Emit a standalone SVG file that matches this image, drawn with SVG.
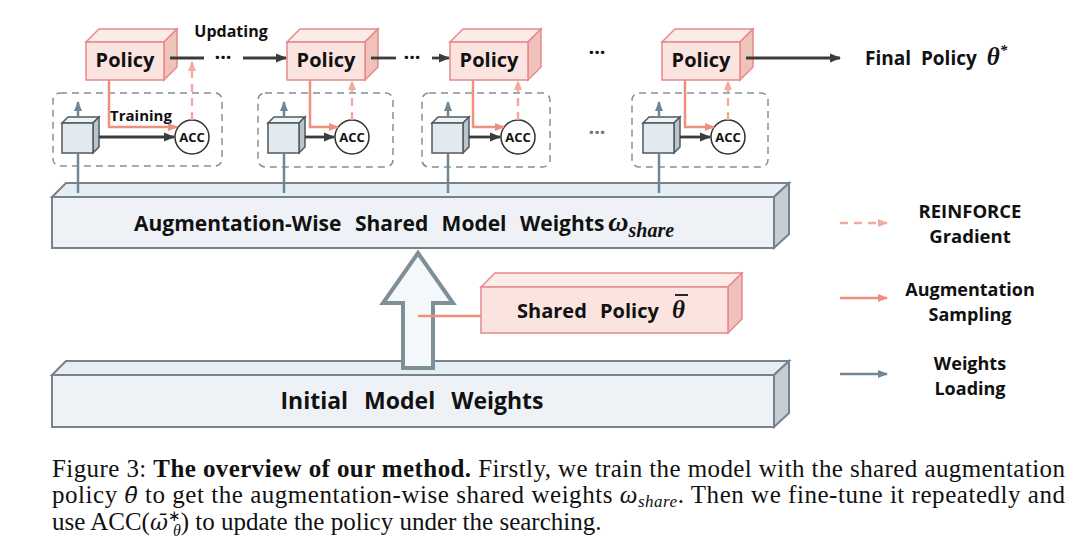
<svg xmlns="http://www.w3.org/2000/svg" width="1080" height="553" viewBox="0 0 1080 553">
<style>
.lbl{font-family:"Open Sans","Noto Sans",sans-serif;font-weight:bold;fill:#111;}
.pol-front{fill:#fbe4df;stroke:#e8898a;stroke-width:1.5;}
.pol-top{fill:#fcece8;stroke:#e8898a;stroke-width:1.5;}
.pol-side{fill:#efc3bb;stroke:#e8898a;stroke-width:1.5;}
.bar-front{fill:#eef2f7;stroke:#76838e;stroke-width:2;}
.bar-top{fill:#e6edf3;stroke:#76838e;stroke-width:2;}
.bar-side{fill:#c6cdd4;stroke:#76838e;stroke-width:2;}
.cube-front{fill:#e2eaef;stroke:#4f5a60;stroke-width:1.5;}
.cube-top{fill:#eef3f6;stroke:#4f5a60;stroke-width:1.5;}
.cube-side{fill:#b9c4cb;stroke:#4f5a60;stroke-width:1.5;}
.dbox{fill:none;stroke:#8a8f94;stroke-width:1.5;stroke-dasharray:7 5;}
.acc{fill:#fff;stroke:#333;stroke-width:1.5;}
.dark{stroke:#3c3c3c;stroke-width:2.8;fill:none;}
.samp{stroke:#ef8f80;stroke-width:2.5;fill:none;}
.grad{stroke:#f2aaa0;stroke-width:2.5;fill:none;stroke-dasharray:8 6;}
.load{stroke:#6f8793;stroke-width:2.5;fill:none;}
.cap{font-family:"Liberation Serif","Times New Roman",serif;font-size:25px;fill:#111;}
.math{font-family:"Liberation Serif","Times New Roman",serif;font-style:italic;}
.mathb{font-family:"DejaVu Serif",serif;font-style:italic;}
</style>
<defs>
<marker id="mDark" viewBox="0 0 10 10" refX="9" refY="5" markerWidth="4" markerHeight="4" orient="auto"><path d="M0,1 L10,5 L0,9 z" fill="#3c3c3c"/></marker>
<marker id="mSamp" viewBox="0 0 10 10" refX="9" refY="5" markerWidth="4" markerHeight="4" orient="auto"><path d="M0,1 L10,5 L0,9 z" fill="#ef8f80"/></marker>
<marker id="mGrad" viewBox="0 0 10 10" refX="9" refY="5" markerWidth="4" markerHeight="4" orient="auto"><path d="M0,1 L10,5 L0,9 z" fill="#f2aaa0"/></marker>
<marker id="mLoad" viewBox="0 0 10 10" refX="9" refY="5" markerWidth="4" markerHeight="4" orient="auto"><path d="M0,1 L10,5 L0,9 z" fill="#6f8793"/></marker>
</defs>
<rect width="1080" height="553" fill="#fff"/>

<!-- bars -->
<g id="shared-weights">
<polygon class="bar-top" points="52,197 66,183 789,183 774,197"/>
<polygon class="bar-side" points="774,197 789,183 789,234 774,248"/>
<rect class="bar-front" x="52" y="197" width="722" height="51"/>
<text class="lbl" x="134" y="231" font-size="21" word-spacing="8">Augmentation-Wise Shared Model Weights<tspan class="math" font-weight="bold" font-size="28" dx="4">ω</tspan><tspan class="math" font-weight="bold" font-size="20" dy="6">share</tspan></text>
</g>
<g id="initial-weights">
<polygon class="bar-top" points="52,375 66,361 789,361 774,375"/>
<polygon class="bar-side" points="774,375 789,361 789,413 774,427"/>
<rect class="bar-front" x="52" y="375" width="722" height="52"/>
<text class="lbl" x="412" y="409" font-size="23" text-anchor="middle" word-spacing="10">Initial Model Weights</text>
</g>
<g id="hollow-arrow">
<polygon points="418,253 453,303 433,303 433,368 403,368 403,303 383,303" fill="#f5f8fb" stroke="#7f8f98" stroke-width="4" stroke-linejoin="miter"/>
</g>
<g id="shared-policy">
<polygon class="pol-top" points="481,287 495,273 742,273 728,287"/>
<polygon class="pol-side" points="728,287 742,273 742,319 728,333"/>
<rect class="pol-front" x="481" y="287" width="247" height="46"/>
<text class="lbl" x="517" y="318" font-size="20" word-spacing="8">Shared Policy <tspan class="math" font-weight="bold" font-size="25">θ</tspan></text>
<line x1="675" y1="295" x2="688" y2="295" stroke="#111" stroke-width="1.8"/>
</g>

<!-- dashed training boxes -->
<g id="train-box-1"><rect class="dbox" x="53" y="93" width="169" height="73" rx="7"/></g>
<g id="train-box-2"><rect class="dbox" x="258" y="93" width="135" height="74" rx="7"/></g>
<g id="train-box-3"><rect class="dbox" x="422" y="93" width="128" height="74" rx="7"/></g>
<g id="train-box-4"><rect class="dbox" x="632" y="93" width="136" height="74" rx="7"/></g>

<!-- policies -->
<g id="policy-1">
<polygon class="pol-top" points="86,42 99,29 177,29 164,42"/>
<polygon class="pol-side" points="164,42 177,29 177,67 164,80"/>
<rect class="pol-front" x="86" y="42" width="78" height="38"/>
<text class="lbl" x="125" y="67" font-size="20" text-anchor="middle">Policy</text>
</g>
<g id="policy-2">
<polygon class="pol-top" points="287,42 300,29 378,29 365,42"/>
<polygon class="pol-side" points="365,42 378,29 378,67 365,80"/>
<rect class="pol-front" x="287" y="42" width="78" height="38"/>
<text class="lbl" x="326" y="67" font-size="20" text-anchor="middle">Policy</text>
</g>
<g id="policy-3">
<polygon class="pol-top" points="450,42 463,29 541,29 528,42"/>
<polygon class="pol-side" points="528,42 541,29 541,67 528,80"/>
<rect class="pol-front" x="450" y="42" width="78" height="38"/>
<text class="lbl" x="489" y="67" font-size="20" text-anchor="middle">Policy</text>
</g>
<g id="policy-4">
<polygon class="pol-top" points="662,42 675,29 753,29 740,42"/>
<polygon class="pol-side" points="740,42 753,29 753,67 740,80"/>
<rect class="pol-front" x="662" y="42" width="78" height="38"/>
<text class="lbl" x="701" y="67" font-size="20" text-anchor="middle">Policy</text>
</g>

<!-- cubes (models) -->
<g id="model-1">
<polygon class="cube-top" points="62,123 68,117 99,117 93,123"/>
<polygon class="cube-side" points="93,123 99,117 99,147 93,153"/>
<rect class="cube-front" x="62" y="123" width="31" height="30"/>
</g>
<g id="model-2">
<polygon class="cube-top" points="268,123 274,117 305,117 299,123"/>
<polygon class="cube-side" points="299,123 305,117 305,147 299,153"/>
<rect class="cube-front" x="268" y="123" width="31" height="30"/>
</g>
<g id="model-3">
<polygon class="cube-top" points="432,123 438,117 469,117 463,123"/>
<polygon class="cube-side" points="463,123 469,117 469,147 463,153"/>
<rect class="cube-front" x="432" y="123" width="31" height="30"/>
</g>
<g id="model-4">
<polygon class="cube-top" points="643,123 649,117 680,117 674,123"/>
<polygon class="cube-side" points="674,123 680,117 680,147 674,153"/>
<rect class="cube-front" x="643" y="123" width="31" height="30"/>
</g>

<!-- ACC nodes -->
<g id="acc-1"><circle class="acc" cx="192" cy="137" r="17"/><text class="lbl" x="192" y="142" font-size="13" text-anchor="middle">ACC</text></g>
<g id="acc-2"><circle class="acc" cx="352" cy="137" r="17"/><text class="lbl" x="352" y="142" font-size="13" text-anchor="middle">ACC</text></g>
<g id="acc-3"><circle class="acc" cx="518" cy="137" r="17"/><text class="lbl" x="518" y="142" font-size="13" text-anchor="middle">ACC</text></g>
<g id="acc-4"><circle class="acc" cx="728" cy="137" r="17"/><text class="lbl" x="728" y="142" font-size="13" text-anchor="middle">ACC</text></g>

<!-- connectors -->
<g id="connectors">
<line class="load" x1="78" y1="193" x2="78" y2="153"/><line class="load" x1="78" y1="117" x2="78" y2="102" marker-end="url(#mLoad)"/>
<line class="load" x1="284" y1="193" x2="284" y2="153"/><line class="load" x1="284" y1="117" x2="284" y2="102" marker-end="url(#mLoad)"/>
<line class="load" x1="448" y1="193" x2="448" y2="153"/><line class="load" x1="448" y1="117" x2="448" y2="102" marker-end="url(#mLoad)"/>
<line class="load" x1="659" y1="193" x2="659" y2="153"/><line class="load" x1="659" y1="117" x2="659" y2="102" marker-end="url(#mLoad)"/>
<line class="dark" x1="99" y1="137" x2="174" y2="137" marker-end="url(#mDark)"/>
<line class="dark" x1="305" y1="137" x2="334" y2="137" marker-end="url(#mDark)"/>
<line class="dark" x1="469" y1="137" x2="500" y2="137" marker-end="url(#mDark)"/>
<line class="dark" x1="680" y1="137" x2="710" y2="137" marker-end="url(#mDark)"/>
<polyline class="samp" points="109,80 109,127 177,127" marker-end="url(#mSamp)"/>
<polyline class="samp" points="310,80 310,127 338,127" marker-end="url(#mSamp)"/>
<polyline class="samp" points="473,80 473,127 504,127" marker-end="url(#mSamp)"/>
<polyline class="samp" points="685,80 685,127 714,127" marker-end="url(#mSamp)"/>
<line class="samp" x1="481" y1="316" x2="418" y2="316"/>
<line class="grad" x1="192" y1="120" x2="192" y2="62" marker-end="url(#mGrad)"/>
<line class="grad" x1="352" y1="120" x2="352" y2="81" marker-end="url(#mGrad)"/>
<line class="grad" x1="518" y1="120" x2="518" y2="81" marker-end="url(#mGrad)"/>
<line class="grad" x1="728" y1="120" x2="728" y2="81" marker-end="url(#mGrad)"/>
<line class="dark" x1="170" y1="58" x2="204" y2="58"/>
<line class="dark" x1="243" y1="58" x2="286" y2="58" marker-end="url(#mDark)"/>
<line class="dark" x1="371" y1="58" x2="396" y2="58"/>
<line class="dark" x1="432" y1="58" x2="449" y2="58" marker-end="url(#mDark)"/>
<line class="dark" x1="746" y1="58" x2="840" y2="58" marker-end="url(#mDark)"/>
</g>

<g id="chain-labels">
<text class="lbl" x="231" y="37" font-size="16" text-anchor="middle">Updating</text>
<text class="lbl" x="141" y="121" font-size="15" text-anchor="middle">Training</text>
<text class="lbl" x="223" y="64" font-size="20" text-anchor="middle">···</text>
<text class="lbl" x="412" y="64" font-size="20" text-anchor="middle">···</text>
<text class="lbl" x="597" y="59" font-size="20" text-anchor="middle">···</text>
<text class="lbl" x="597" y="139" font-size="20" text-anchor="middle" style="fill:#777">···</text>
</g>

<g id="final-policy">
<text class="lbl" x="865" y="65" font-size="19" word-spacing="5">Final Policy <tspan class="math" font-weight="bold" font-size="25">θ</tspan><tspan class="math" font-size="15" dy="-10">*</tspan></text>
</g>

<g id="legend">
<line class="grad" x1="840" y1="223" x2="887" y2="223" stroke-dasharray="9 9" marker-end="url(#mGrad)"/>
<text class="lbl" x="970" y="218" font-size="18.5" text-anchor="middle">REINFORCE</text>
<text class="lbl" x="970" y="243" font-size="18.5" text-anchor="middle">Gradient</text>
<line class="samp" x1="840" y1="298" x2="887" y2="298" marker-end="url(#mSamp)"/>
<text class="lbl" x="970" y="296" font-size="18" text-anchor="middle">Augmentation</text>
<text class="lbl" x="970" y="321" font-size="18" text-anchor="middle">Sampling</text>
<line class="load" x1="840" y1="374" x2="887" y2="374" marker-end="url(#mLoad)"/>
<text class="lbl" x="970" y="370" font-size="18" text-anchor="middle">Weights</text>
<text class="lbl" x="970" y="395" font-size="18" text-anchor="middle">Loading</text>
</g>

<g id="caption">
<text class="cap" x="52" y="477" textLength="1013" lengthAdjust="spacing">Figure 3: <tspan font-weight="bold">The overview of our method.</tspan> Firstly, we train the model with the shared augmentation</text>
<text class="cap" x="52" y="503" textLength="1013" lengthAdjust="spacing">policy <tspan class="mathb" font-size="22">θ̄</tspan> to get the augmentation-wise shared weights <tspan class="math">ω</tspan><tspan class="math" font-size="17" dy="4">share</tspan><tspan dy="-4">. Then we fine-tune it repeatedly and</tspan></text>
<text class="cap" x="52" y="530">use ACC(<tspan class="mathb" font-size="22">ω̄</tspan><tspan font-size="15" dy="-9">∗</tspan><tspan class="math" font-size="16" dx="-8" dy="15">θ</tspan><tspan dy="-6">) to update the policy under the searching.</tspan></text>
</g>
</svg>
